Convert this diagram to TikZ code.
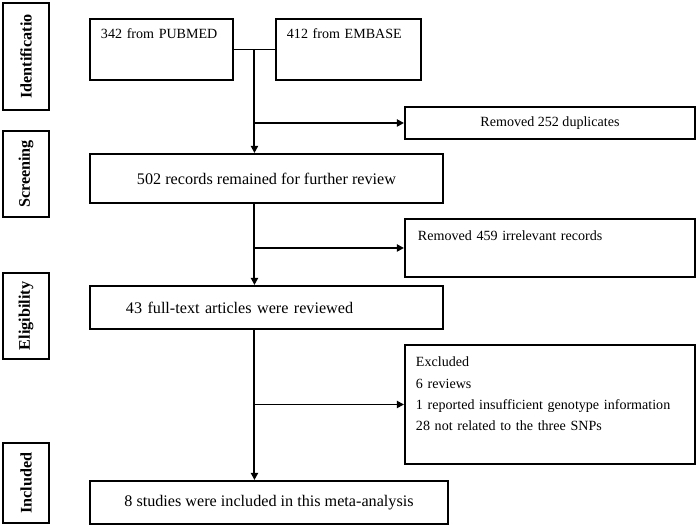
\documentclass[tikz,border=0pt]{standalone}
\usepackage{fontspec}
\setmainfont{Liberation Serif}
\usetikzlibrary{
  arrows.meta,
  calc,
  positioning,
}

\begin{document}
\begin{tikzpicture}[
  box/.style={draw, line width=1.4pt, anchor=north west, inner sep=0pt},
  mainbox/.style={box, font=\fontsize{11.5}{14}\selectfont},
  stage/.style={draw, line width=1.5pt, rotate=90, inner sep=0pt, minimum height=1.15cm, font=\fontsize{11.5}{13}\selectfont\bfseries},
  flow/.style={line width=1.4pt, -{Triangle[length=5pt, width=5pt]}},
  font=\fontsize{10}{15}\selectfont]
\useasboundingbox (0,0) rectangle (17.425,-13.15);

\node[stage, minimum width=2.675cm] (ident) at (0.65,-1.4125) {Identificatio};
\node[stage, minimum width=2.15cm] (screen) at (0.65,-4.35) {Screening};
\node[stage, minimum width=2.15cm] (elig) at (0.65,-7.9) {Eligibility};
\node[stage, minimum width=2.0cm] (incl) at (0.65,-12.075) {Included};

\node[box, minimum width=3.575cm, minimum height=1.525cm, text width=3.025cm, inner xsep=0.275cm, inner ysep=0.25cm, align=left, text height=0.25cm, text depth=0.775cm] (pubmed) at (2.225,-0.45) {342 from PUBMED};
\node[box, minimum width=3.625cm, minimum height=1.525cm, text width=3.075cm, inner xsep=0.275cm, inner ysep=0.25cm, align=left, text height=0.25cm, text depth=0.775cm, right=1.025cm of pubmed] (embase) {412 from EMBASE};

\node[box, minimum width=7.25cm, minimum height=0.8cm] (dup) at (10.1,-2.65) {Removed 252 duplicates};
\node[mainbox, minimum width=8.825cm, minimum height=1.225cm] (rec) at (2.225,-3.825) {502 records remained for further review};

\node[box, minimum width=7.25cm, minimum height=1.45cm, text width=6.6cm, inner xsep=0.325cm, inner ysep=0.3cm, align=left, text height=0.25cm, text depth=0.6cm] (irr) at (10.1,-5.45) {Removed 459 irrelevant records};
\node[mainbox, minimum width=8.825cm, minimum height=1.075cm, text width=7.025cm, inner xsep=0.9cm, align=left] (full) at (2.225,-7.125) {43 full-text articles were reviewed};

\node[box, minimum width=7.25cm, minimum height=2.975cm, text width=6.7cm, inner xsep=0.275cm, inner ysep=0.3cm, align=left, text height=0.25cm, text depth=2.125cm] (excl) at (10.1,-8.6) {Excluded\\6 reviews\\1 reported insufficient genotype information\\28 not related to the three SNPs};
\node[mainbox, minimum width=8.95cm, minimum height=1.075cm] (studies) at (2.225,-12.0) {8 studies were included in this meta-analysis};

% trunk and side branches
\draw[line width=1.4pt] (pubmed.east) -- (embase.west);
\coordinate (join) at ($(pubmed.east)!0.5!(embase.west)$);
\coordinate (b1) at (join |- dup.west);
\coordinate (b2) at (join |- irr.west);
\coordinate (b3) at (join |- excl.west);

\draw[flow] (join) -- (join |- rec.north);
\draw[flow] (b1) -- (dup.west);
\draw[flow] (join |- rec.south) -- (join |- full.north);
\draw[flow] (b2) -- (irr.west);
\draw[flow] (join |- full.south) -- (join |- studies.north);
\draw[flow] (b3) -- (excl.west);
\end{tikzpicture}
\end{document}
